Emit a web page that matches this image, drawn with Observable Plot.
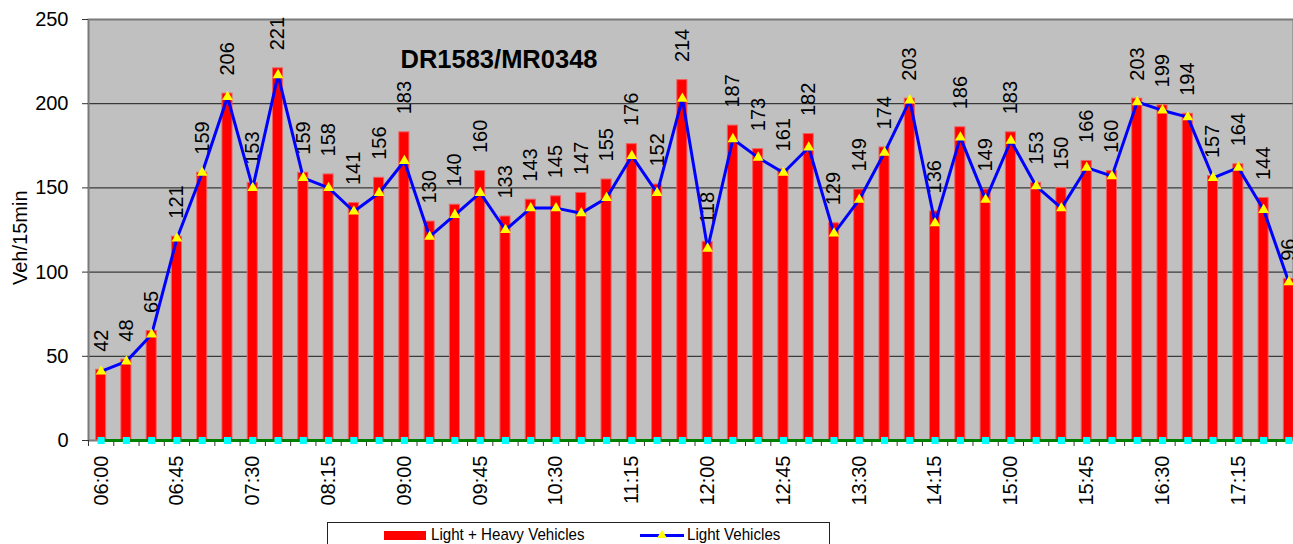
<!DOCTYPE html>
<html>
<head>
<meta charset="utf-8">
<script src="https://cdn.jsdelivr.net/npm/d3@7"></script>
<script src="https://cdn.jsdelivr.net/npm/@observablehq/plot@0.6"></script>
<style>
  html, body { margin: 0; padding: 0; background: #fff; overflow: hidden; }
  #wrap { position: relative; width: 1293px; height: 544px; font-family: "Liberation Sans", Arial, sans-serif; }
  #legend { position: absolute; left: 327px; top: 522px; width: 503px; height: 40px; border: 1px solid #222; box-sizing: border-box; background: #fff; }
  .lg-item { position: absolute; top: 2px; font-size: 17px; color: #000; white-space: nowrap; transform: scaleX(0.89); transform-origin: left center; }
  .sw-bar { position: absolute; left: 56px; top: 8px; width: 42px; height: 9px; background: #ff0000; }
  .sw-line { position: absolute; left: 312px; top: 11px; width: 44px; height: 3px; background: #0000ff; }
  .sw-tri { position: absolute; left: 329px; top: 7px; width: 0; height: 0; border-left: 5px solid transparent; border-right: 5px solid transparent; border-bottom: 8px solid #ffff00; }
</style>
</head>
<body>
<div id="wrap"></div>
<script>
const title = "DR1583/MR0348";
const yLabel = "Veh/15min";
const times = ["06:00","06:15","06:30","06:45","07:00","07:15","07:30","07:45","08:00","08:15","08:30","08:45",
               "09:00","09:15","09:30","09:45","10:00","10:15","10:30","10:45","11:00","11:15","11:30","11:45",
               "12:00","12:15","12:30","12:45","13:00","13:15","13:30","13:45","14:00","14:15","14:30","14:45",
               "15:00","15:15","15:30","15:45","16:00","16:15","16:30","16:45","17:00","17:15","17:30","17:45"];
const xTickLabels = ["06:00","06:45","07:30","08:15","09:00","09:45","10:30","11:15","12:00","12:45","13:30","14:15","15:00","15:45","16:30","17:15"];
const yTicks = [0, 50, 100, 150, 200, 250];
const totalVehicles = [42,48,65,121,159,206,153,221,159,158,141,156,183,130,140,160,133,143,145,147,155,176,152,214,
                       118,187,173,161,182,129,149,174,203,136,186,149,183,153,150,166,160,203,199,194,157,164,144,96];
const lightVehicles = [41,47,63,120,159,204,150,217,156,150,136,147,166,121,134,147,125,138,138,135,144,169,147,203,
                       114,179,168,159,174,123,143,171,202,129,180,143,178,151,138,162,157,201,196,192,156,162,137,94];
const heavyVehicles = [0,0,0,0,0,0,0,0,0,0,0,0,0,0,0,0,0,0,0,0,0,0,0,0,
                       0,0,0,0,0,0,0,0,0,0,0,0,0,0,0,0,0,0,0,0,0,0,0,0];
const legendLabels = ["Light + Heavy Vehicles", "Light Vehicles"];

const idx = times.map((_, i) => i);
const edges = [-0.5, ...idx.map(i => i + 0.5)];
const labelIdx = xTickLabels.map(t => times.indexOf(t));
const FONT = "\"Liberation Sans\", Arial, sans-serif";

const chart = Plot.plot({
  width: 1293,
  height: 518,
  marginLeft: 88,
  marginRight: 0,
  marginTop: 19,
  marginBottom: 78,
  style: { fontFamily: FONT, fontSize: "20px", color: "#000", background: "transparent" },
  x: { domain: [-0.5, times.length - 0.5], range: [88, 1301] },
  y: { domain: [0, 250] },
  marks: [
    Plot.frame({ fill: "#c0c0c0" }),
    Plot.gridY(yTicks, { stroke: "#1a1a1a", strokeOpacity: 1, strokeWidth: 1 }),
    Plot.frame({ stroke: "#7a7a7a", strokeWidth: 2, fill: "none" }),
    Plot.axisY(yTicks, { tickSize: 6, tickPadding: 14, fontSize: 20, stroke: "#333", label: null }),
    Plot.axisX(edges, { tickSize: 6, tickFormat: () => "", stroke: "#333", label: null }),
    Plot.axisX(labelIdx, { tickSize: 0, tickPadding: 15, tickRotate: -90, tickFormat: i => times[i], fontSize: 20, label: null }),
    Plot.rectY(idx, {
      x1: i => i - 0.5, x2: i => i + 0.5, y: i => totalVehicles[i],
      insetLeft: 7.6, insetRight: 7.6, fill: "#ff0000", stroke: "#f06060", strokeWidth: 1
    }),
    Plot.text(idx, {
      x: i => i, y: i => totalVehicles[i], text: i => String(totalVehicles[i]),
      rotate: -90, textAnchor: "start", dy: -18, fontSize: 20, fill: "#000"
    }),
    Plot.line(idx, { x: i => i, y: i => lightVehicles[i], stroke: "#0000ff", strokeWidth: 3 }),
    Plot.dot(idx, { x: i => i, y: i => lightVehicles[i], symbol: "triangle", r: 4, fill: "#ffff00", stroke: "none" }),
    Plot.line(idx, { x: i => i, y: i => heavyVehicles[i], stroke: "#008000", strokeWidth: 3 }),
    Plot.dot(idx, { x: i => i, y: i => heavyVehicles[i], symbol: "square", r: 4, fill: "#00ffff", stroke: "none" }),
    Plot.text([title], { frameAnchor: "top", dx: -192, dy: 30, fontWeight: "bold", fontSize: 25.5, fill: "#000" }),
    Plot.text([yLabel], { frameAnchor: "left", dx: -68, dy: 55, rotate: -90, fontSize: 20, fill: "#000" })
  ]
});

const wrap = document.getElementById("wrap");
chart.style.position = "absolute";
chart.style.left = "0px";
chart.style.top = "0px";
wrap.appendChild(chart);

const legend = document.createElement("div");
legend.id = "legend";
legend.innerHTML =
  '<div class="sw-bar"></div>' +
  '<div class="lg-item" style="left:103px">' + legendLabels[0] + '</div>' +
  '<div class="sw-line"></div><div class="sw-tri"></div>' +
  '<div class="lg-item" style="left:359px">' + legendLabels[1] + '</div>';
wrap.appendChild(legend);
</script>
</body>
</html>
